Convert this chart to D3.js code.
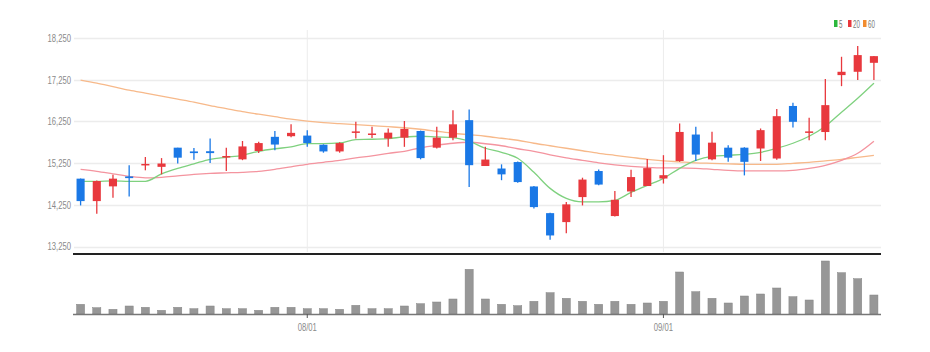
<!DOCTYPE html>
<html>
<head>
<meta charset="utf-8">
<script src="https://cdn.jsdelivr.net/npm/d3@7"></script>
<style>
	body { margin: 0; background: #fff; }
	text { font-family: "Liberation Sans", Arial, sans-serif; }
</style>
</head>
<body>
<svg id="chart" width="930" height="352"></svg>
<script>
// trading days, 2023-07-12 .. 2023-09-20
const dates = [
	"07/12", "07/13", "07/14", "07/17", "07/18", "07/19", "07/20", "07/21", "07/24", "07/25",
	"07/26", "07/27", "07/28", "07/31", "08/01", "08/02", "08/03", "08/04", "08/07", "08/08",
	"08/09", "08/10", "08/11", "08/14", "08/16", "08/17", "08/18", "08/21", "08/22", "08/23",
	"08/24", "08/25", "08/28", "08/29", "08/30", "08/31", "09/01", "09/04", "09/05", "09/06",
	"09/07", "09/08", "09/11", "09/12", "09/13", "09/14", "09/15", "09/18", "09/19", "09/20"
];
const open = [
	14877, 14339, 14692, 14930, 15200, 15160, 15620, 15530, 15535, 15390,
	15340, 15540, 15880, 15895, 15910, 15690, 15530, 15975, 15925, 15840,
	15860, 16020, 15620, 15860, 16280, 15180, 15120, 15275, 14690, 14050,
	13835, 14435, 15060, 13980, 14570, 14700, 14880, 15300, 15935, 15340,
	15620, 15620, 15600, 15360, 16620, 15980, 15995, 17360, 17440, 17655
];
const high = [
	14880, 14830, 14973, 15197, 15396, 15370, 15620, 15610, 15840, 15620,
	15780, 15760, 16020, 16180, 16040, 15700, 15750, 16240, 16120, 16080,
	16260, 16030, 16120, 16520, 16535, 15640, 15220, 15290, 14700, 14060,
	14315, 14900, 15095, 14580, 15090, 15350, 15440, 16200, 16120, 16000,
	15680, 15630, 16080, 16545, 16695, 16335, 17265, 17800, 18060, 17820
];
const low = [
	14235, 14035, 14420, 14450, 15077, 14980, 15240, 15330, 15250, 15060,
	15320, 15490, 15560, 15870, 15640, 15500, 15500, 15840, 15850, 15640,
	15640, 15340, 15600, 15800, 14675, 15180, 14840, 14780, 14160, 13410,
	13570, 14235, 14720, 13970, 14435, 14700, 14760, 15280, 15300, 15320,
	15280, 14955, 15300, 15330, 16105, 15800, 15800, 17095, 17240, 17240
];
const close = [
	14339, 14820, 14877, 14890, 15230, 15240, 15380, 15490, 15490, 15420,
	15650, 15730, 15695, 15975, 15730, 15530, 15730, 16010, 15960, 15980,
	16070, 15370, 15860, 16180, 15200, 15335, 14980, 14795, 14195, 13515,
	14260, 14855, 14735, 14370, 14915, 15130, 14960, 15997, 15455, 15740,
	15380, 15280, 16040, 16375, 16240, 16010, 16640, 17440, 17840, 17815
];
const volume = [
	97000, 63000, 47000, 80000, 67000, 37000, 67000, 53000, 80000, 53000,
	53000, 37000, 67000, 67000, 53000, 53000, 47000, 87000, 53000, 53000,
	80000, 103000, 120000, 150000, 447000, 150000, 97000, 83000, 127000, 213000,
	157000, 127000, 97000, 127000, 97000, 110000, 127000, 420000, 223000, 157000,
	110000, 180000, 200000, 260000, 173000, 140000, 530000, 413000, 353000, 190000
];
const ma5 = [
	14812, 14812, 14824, 14812, 14812, 14992, 15125, 15233, 15341, 15389,
	15437, 15533, 15594, 15637, 15718, 15718, 15733, 15815, 15822, 15839,
	15877, 15894, 15877, 15863, 15774, 15606, 15509, 15365, 15029, 14644,
	14404, 14320, 14320, 14356, 14548, 14716, 14884, 15125, 15317, 15413,
	15437, 15461, 15509, 15606, 15726, 15894, 16134, 16471, 16807, 17168
];
const ma20 = [
	15101, 15053, 14992, 14932, 14896, 14908, 14944, 14980, 15004, 15016,
	15029, 15053, 15101, 15161, 15221, 15269, 15317, 15377, 15425, 15485,
	15533, 15618, 15678, 15726, 15750, 15714, 15666, 15594, 15533, 15449,
	15377, 15317, 15257, 15209, 15173, 15149, 15137, 15137, 15125, 15101,
	15077, 15065, 15065, 15065, 15077, 15125, 15197, 15317, 15485, 15774
];
const ma60 = [
	17240, 17168, 17084, 17000, 16928, 16856, 16784, 16712, 16627, 16555,
	16483, 16423, 16363, 16303, 16255, 16219, 16195, 16171, 16147, 16123,
	16098, 16062, 16014, 15966, 15930, 15894, 15846, 15798, 15726, 15666,
	15606, 15546, 15485, 15437, 15389, 15341, 15305, 15281, 15257, 15245,
	15233, 15221, 15221, 15221, 15245, 15269, 15305, 15341, 15389, 15437
];
const priceTicks = [13250, 14250, 15250, 16250, 17250, 18250];
const tickLabels = ["08/01", "09/01"];
const maNames = ["5", "20", "60"];

// the original chart's text is squeezed horizontally
const squeeze = 0.7;

function CandleChart() {
	this.selection = function (selection) {
		this._selection = selection;
		return this;
	};

	this.size = function (size) {
		this._size = size;
		return this;
	};

	this.scales = function () {
		this._x = d3.scaleBand().domain(dates).range([72.5, 882]);
		this._y = d3.scaleLinear().domain([13250, 18250]).range([246.5, 38]);
		this._v = d3.scaleLinear().domain([0, 560000]).range([314, 258]);
		return this;
	};

	this.cx = function (i) {
		return this._x(dates[i]) + this._x.bandwidth() / 2;
	};

	this.drawGrid = function () {
		let svg = this._selection;
		svg.append("g")
			.classed("grid", true)
			.selectAll("line")
			.data(priceTicks)
			.join("line")
			.attr("x1", 74)
			.attr("x2", 881)
			.attr("y1", (d) => Math.round(this._y(d)) + 0.5)
			.attr("y2", (d) => Math.round(this._y(d)) + 0.5)
			.attr("stroke", "#ececec")
			.attr("stroke-width", 1.5);

		svg.append("g")
			.classed("vgrid", true)
			.selectAll("line")
			.data(tickLabels)
			.join("line")
			.attr("x1", (d) => this.cx(dates.indexOf(d)))
			.attr("x2", (d) => this.cx(dates.indexOf(d)))
			.attr("y1", 30)
			.attr("y2", 252)
			.attr("stroke", "#ececec")
			.attr("stroke-width", 1);

		svg.append("g")
			.classed("y-axis", true)
			.selectAll("text")
			.data(priceTicks)
			.join("text")
			.attr("transform", (d) => `translate(71, ${this._y(d)}) scale(${squeeze}, 1)`)
			.attr("dy", "0.35em")
			.attr("text-anchor", "end")
			.attr("font-size", 11)
			.attr("fill", "#8a8a8a")
			.text((d) => d3.format(",")(d));
	};

	this.drawLines = function () {
		let line = d3
			.line()
			.x((d, i) => this.cx(i))
			.y((d) => this._y(d))
			.curve(d3.curveMonotoneX);
		let series = [
			[ma60, "#f7b98a"],
			[ma20, "#f4949f"],
			[ma5, "#7fd17f"]
		];
		this._selection
			.append("g")
			.classed("ma", true)
			.selectAll("path")
			.data(series)
			.join("path")
			.attr("d", (d) => line(d[0]))
			.attr("fill", "none")
			.attr("stroke", (d) => d[1])
			.attr("stroke-width", 1.3);
	};

	this.drawCandles = function () {
		let bw = this._x.bandwidth() * 0.5;
		let color = (i) => (close[i] >= open[i] ? "#e8383d" : "#1a78e6");
		let g = this._selection
			.append("g")
			.classed("candles", true)
			.selectAll("g")
			.data(dates.map((d, i) => i))
			.join("g");

		g.append("line")
			.attr("x1", (i) => this.cx(i))
			.attr("x2", (i) => this.cx(i))
			.attr("y1", (i) => this._y(high[i]))
			.attr("y2", (i) => this._y(low[i]))
			.attr("stroke", color)
			.attr("stroke-width", 1.3);

		g.append("rect")
			.attr("x", (i) => this.cx(i) - bw / 2)
			.attr("width", bw)
			.attr("y", (i) => this._y(Math.max(open[i], close[i])))
			.attr("height", (i) =>
				Math.max(1.5, Math.abs(this._y(open[i]) - this._y(close[i])))
			)
			.attr("fill", color);
	};

	this.drawVolume = function () {
		let svg = this._selection;
		let bw = this._x.bandwidth() * 0.5;

		svg.append("line")
			.attr("x1", 73)
			.attr("x2", 881)
			.attr("y1", 254)
			.attr("y2", 254)
			.attr("stroke", "#222")
			.attr("stroke-width", 2);

		svg.append("g")
			.classed("volume", true)
			.selectAll("rect")
			.data(volume)
			.join("rect")
			.attr("x", (d, i) => this.cx(i) - bw / 2)
			.attr("width", bw)
			.attr("y", (d) => this._v(d))
			.attr("height", (d) => this._v(0) - this._v(d))
			.attr("fill", "#979797")
			.attr("stroke", "#858585")
			.attr("stroke-width", 0.5);

		svg.append("line")
			.attr("x1", 73)
			.attr("x2", 881)
			.attr("y1", 314.5)
			.attr("y2", 314.5)
			.attr("stroke", "#777")
			.attr("stroke-width", 1.5);

		let ticks = svg
			.append("g")
			.classed("x-axis", true)
			.selectAll("g")
			.data(tickLabels)
			.join("g")
			.attr("transform", (d) => `translate(${this.cx(dates.indexOf(d))}, 314)`);
		ticks.append("line").attr("y2", 4).attr("stroke", "#555");
		ticks.append("text")
			.attr("transform", `translate(0, 17) scale(${squeeze}, 1)`)
			.attr("text-anchor", "middle")
			.attr("font-size", 11)
			.attr("fill", "#8a8a8a")
			.text((d) => d);
	};

	this.drawLegend = function () {
		let colors = ["#2db83d", "#e8383d", "#f28c2e"];
		let offs = [834, 848, 863];
		let g = this._selection
			.append("g")
			.classed("legend", true)
			.selectAll("g")
			.data(maNames)
			.join("g")
			.attr("transform", (d, i) => `translate(${offs[i]}, 20)`);
		g.append("rect").attr("width", 3.5).attr("height", 7).attr("fill", (d, i) => colors[i]);
		g.append("text")
			.attr("transform", `translate(5, 7.5) scale(0.62, 1)`)
			.attr("font-size", 10)
			.attr("fill", "#777")
			.text((d) => d);
	};

	this.draw = function () {
		this.drawGrid();
		this.drawLines();
		this.drawCandles();
		this.drawVolume();
		this.drawLegend();
	};
}

new CandleChart()
	.selection(d3.select("#chart"))
	.size({ w: 930, h: 352 })
	.scales()
	.draw();
</script>
</body>
</html>
